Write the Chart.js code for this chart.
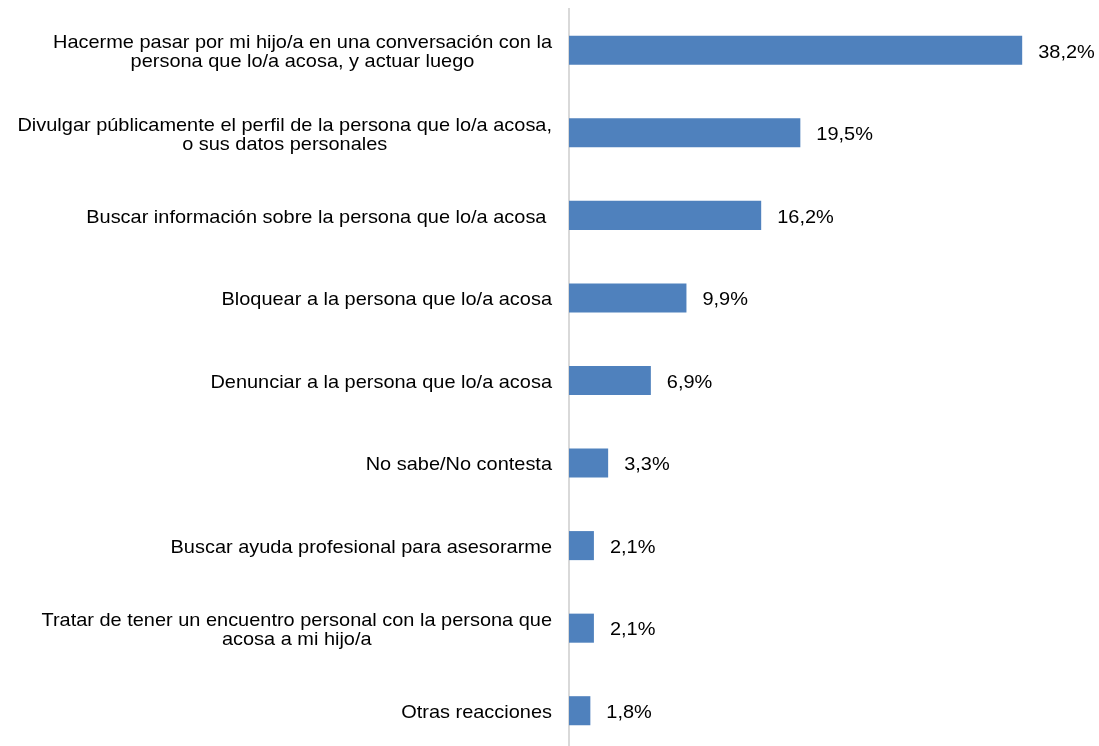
<!DOCTYPE html>
<html>
<head>
<meta charset="utf-8">
<script src="https://cdn.jsdelivr.net/npm/chart.js@4.4.1/dist/chart.umd.min.js"></script>
<style>
  html, body { margin: 0; padding: 0; background: #fff; overflow: hidden; }
  #wrap { position: relative; width: 1099px; height: 752px; }
</style>
</head>
<body>
<div id="wrap"><canvas id="chart"></canvas></div>
<script>
// categories (multi-line labels are split into lines)
const categories = [
  ['Hacerme pasar por mi hijo/a en una conversación con la', 'persona que lo/a acosa, y actuar luego'],
  ['Divulgar públicamente el perfil de la persona que lo/a acosa,', 'o sus datos personales'],
  ['Buscar información sobre la persona que lo/a acosa '],
  ['Bloquear a la persona que lo/a acosa'],
  ['Denunciar a la persona que lo/a acosa'],
  ['No sabe/No contesta'],
  ['Buscar ayuda profesional para asesorarme'],
  ['Tratar de tener un encuentro personal con la persona que', 'acosa a mi hijo/a'],
  ['Otras reacciones']
];
const values = [38.2, 19.5, 16.2, 9.9, 6.9, 3.3, 2.1, 2.1, 1.8];

const FONT = '19px "Liberation Sans", Arial, sans-serif';
const TEXT = '#000';
const SX = 1.05; // text is drawn slightly wide

function wideText(c, str, x, y) {
  c.save();
  c.translate(x, y);
  c.scale(SX, 1);
  c.fillText(str, 0, 0);
  c.restore();
}

// left-side category text: block right-aligned, lines centred inside the block
const catLabels = {
  id: 'catLabels',
  afterDraw(chart) {
    const c = chart.ctx;
    const y = chart.scales.y;
    const right = chart.chartArea.left - 17;
    const lh = 19;
    c.save();
    c.font = FONT;
    c.fillStyle = TEXT;
    c.textAlign = 'center';
    c.textBaseline = 'middle';
    categories.forEach((lines, i) => {
      const w = Math.max(...lines.map(l => c.measureText(l).width)) * SX;
      const cx = right - w / 2;
      const cy = y.getPixelForValue(i) + 2;
      const top = cy - (lines.length - 1) * lh / 2;
      lines.forEach((l, k) => wideText(c, l, cx, top + k * lh));
    });
    c.restore();
  }
};

// value labels next to each bar
const valueLabels = {
  id: 'valueLabels',
  afterDatasetsDraw(chart) {
    const c = chart.ctx;
    const meta = chart.getDatasetMeta(0);
    c.save();
    c.font = FONT;
    c.fillStyle = TEXT;
    c.textAlign = 'left';
    c.textBaseline = 'middle';
    meta.data.forEach((bar, i) => {
      wideText(c, values[i].toFixed(1).replace('.', ',') + '%', bar.x + 16, bar.y + 2);
    });
    c.restore();
  }
};

new Chart(document.getElementById('chart'), {
  type: 'bar',
  data: {
    labels: categories.map(l => l.join(' ')),
    datasets: [{
      data: values,
      backgroundColor: '#4F81BD',
      borderWidth: 0,
      categoryPercentage: 1,
      barPercentage: 0.352
    }]
  },
  options: {
    indexAxis: 'y',
    responsive: true,
    maintainAspectRatio: false,
    animation: false,
    layout: { padding: { left: 569, top: 9, right: 8, bottom: 0 } },
    plugins: { legend: { display: false }, tooltip: { enabled: false } },
    scales: {
      x: { display: false, min: 0, max: 44 },
      y: {
        display: true,
        ticks: { display: false },
        grid: { display: false, drawTicks: false },
        border: { display: true, color: '#d9d9d9', width: 2 }
      }
    }
  },
  plugins: [catLabels, valueLabels]
});
</script>
</body>
</html>
